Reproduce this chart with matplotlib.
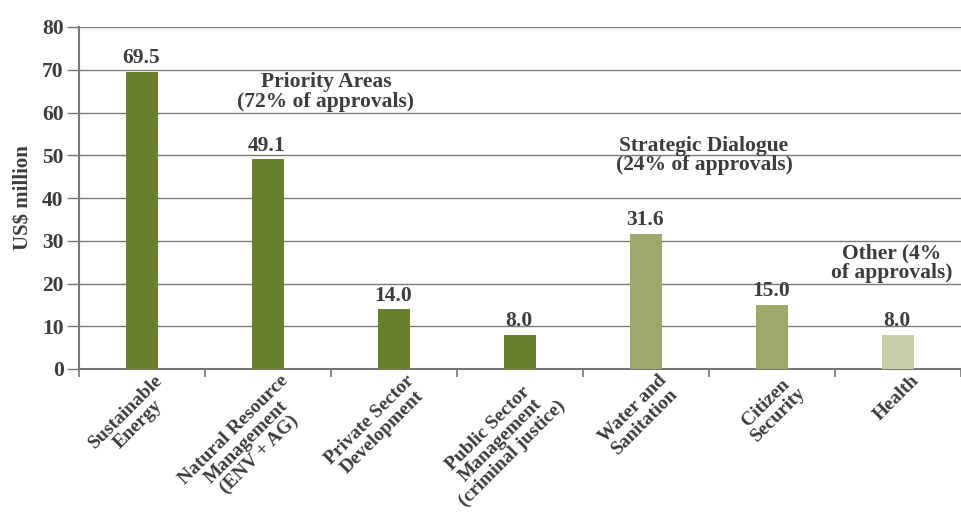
import matplotlib as mpl
mpl.use("Agg")
import matplotlib.pyplot as plt
import matplotlib.transforms as mtransforms
import numpy as np

categories = [
    "Sustainable\nEnergy",
    "Natural Resource\nManagement\n(ENV + AG)",
    "Private Sector\nDevelopment",
    "Public Sector\nManagement\n(criminal justice)",
    "Water and\nSanitation",
    "Citizen\nSecurity",
    "Health",
]
values = [69.5, 49.1, 14.0, 8.0, 31.6, 15.0, 8.0]
groups = ["priority", "priority", "priority", "priority", "strategic", "strategic", "other"]
group_colors = {"priority": "#6b802e", "strategic": "#9da86a", "other": "#c8cdaa"}

text_color = "#3c3c3c"
plt.rcParams["font.family"] = ["Liberation Serif", "DejaVu Serif"]
plt.rcParams["font.weight"] = "bold"

fig = plt.figure(figsize=(9.61, 5.21), dpi=100)
ax = fig.add_axes([79 / 961, 152 / 521, 1 - 79 / 961, 342 / 521])

x = np.arange(len(values))
colors = [group_colors[g] for g in groups]
ax.bar(x, values, width=0.26, color=colors, zorder=3)

for xi, v in zip(x, values):
    ax.text(xi - 0.01, v + 0.8, f"{v:.1f}", ha="center", va="bottom",
            fontsize=15.5, fontweight="bold", color=text_color, zorder=4)

ax.set_ylim(0, 80)
ax.set_xlim(-0.473, 6.418)
ax.set_yticks(range(0, 81, 10))
ax.yaxis.grid(True, color="#7a7a7a", lw=1.0, zorder=0)
ax.tick_params(axis="y", length=9, width=1.0, color="#777777", labelsize=15.5,
               labelcolor=text_color, pad=2)
for lbl in ax.get_yticklabels():
    lbl.set_fontweight("bold")

ax.set_xticks(x)
ax.set_xticklabels(categories, rotation=45, ha="right", rotation_mode="anchor",
                   fontsize=14, fontweight="bold", color=text_color,
                   multialignment="center", linespacing=1.05)
ax.tick_params(axis="x", length=0, pad=2)
shift = mtransforms.ScaledTranslation(12 / 100, 0, fig.dpi_scale_trans)
for lbl in ax.get_xticklabels():
    lbl.set_transform(lbl.get_transform() + shift)
ax.set_xticks(np.arange(len(values) + 1) - 0.5, minor=True)
ax.tick_params(axis="x", which="minor", length=6, width=1.2, color="#777777")

for side in ["top", "right"]:
    ax.spines[side].set_visible(False)
for side in ["left", "bottom"]:
    ax.spines[side].set_color("#777777")
    ax.spines[side].set_linewidth(1.5)

ax.set_ylabel("US$ million", fontsize=15, fontweight="bold", color=text_color, labelpad=6)

ax.text(1.46, 64.8, "Priority Areas\n(72% of approvals)", ha="center", va="center",
        fontsize=15.5, fontweight="bold", color=text_color, linespacing=0.95, zorder=4)
ax.text(4.46, 50.0, "Strategic Dialogue\n(24% of approvals)", ha="center", va="center",
        fontsize=15.5, fontweight="bold", color=text_color, linespacing=0.95, zorder=4)
ax.text(5.95, 24.8, "Other (4%\nof approvals)", ha="center", va="center",
        fontsize=15.5, fontweight="bold", color=text_color, linespacing=0.95, zorder=4)

plt.savefig("out.png", dpi=100)
